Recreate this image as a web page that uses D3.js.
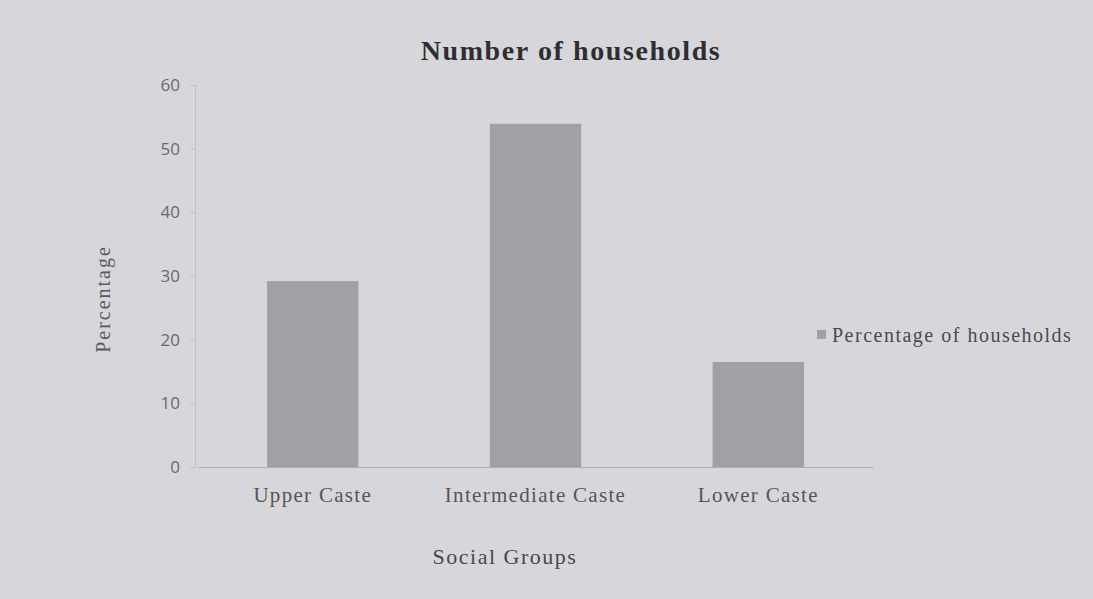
<!DOCTYPE html>
<html><head><meta charset="utf-8">
<script src="https://cdn.jsdelivr.net/npm/d3@7"></script>
<style>html,body{margin:0;padding:0;background:#d7d7db;}svg{display:block;}</style>
</head><body><svg id="c" width="1093" height="599"></svg>
<script>
const categories = ["Upper Caste", "Intermediate Caste", "Lower Caste"];
const values = [29.2, 53.9, 16.5];
const yTicks = [0, 10, 20, 30, 40, 50, 60];
const seriesName = "Percentage of households";
const title = "Number of households";
const xTitle = "Social Groups";
const yTitle = "Percentage";

const svg = d3.select("#c");
svg.append("rect").attr("width",1093).attr("height",599).attr("fill","#d7d7db");
const m = {left:195, right:870, top:85, bottom:467};
const x = d3.scaleBand().domain(categories).range([m.left, m.right]).paddingInner(0.59).paddingOuter(0.31);
const y = d3.scaleLinear().domain([0,60]).range([m.bottom, m.top]);

const yAxis = d3.axisLeft(y).tickValues(yTicks).tickSize(5).tickPadding(10);
const gy = svg.append("g").attr("transform",`translate(${m.left},0)`).call(yAxis);
gy.select(".domain").attr("stroke","#c2c2c6");
gy.selectAll(".tick line").attr("stroke","#c2c2c6");
gy.selectAll("text").attr("font-family","'Open Sans', 'Liberation Sans', sans-serif").attr("font-size",17).attr("fill","#6a6a6e");

const xAxis = d3.axisBottom(x).tickSize(0).tickPadding(20);
const gx = svg.append("g").attr("transform",`translate(3,${m.bottom})`).call(xAxis);
gx.select(".domain").attr("stroke","#aeaeb2").attr("stroke-width",1.2);
gx.selectAll("text").attr("font-family","'Liberation Serif', serif").attr("font-size",21)
  .attr("letter-spacing",1.3).attr("fill","#555559");

svg.append("g").selectAll("rect").data(values).join("rect")
  .attr("x",(d,i)=>x(categories[i])+3)
  .attr("y",d=>y(d))
  .attr("width",x.bandwidth())
  .attr("height",d=>y(0)-y(d))
  .attr("fill","#a1a1a5");

svg.append("text").attr("x",571).attr("y",60).attr("text-anchor","middle")
  .attr("font-family","'Liberation Serif', serif").attr("font-weight","bold").attr("font-size",28)
  .attr("letter-spacing",1.6).attr("fill","#2e2e32").text(title);
svg.append("text").attr("x",505).attr("y",564).attr("text-anchor","middle")
  .attr("font-family","'Liberation Serif', serif").attr("font-size",22).attr("letter-spacing",1.5)
  .attr("fill","#48484c").text(xTitle);
svg.append("text").attr("transform","translate(110,299) rotate(-90)").attr("text-anchor","middle")
  .attr("font-family","'Liberation Serif', serif").attr("font-size",20).attr("letter-spacing",2)
  .attr("fill","#5a5a5e").text(yTitle);

const lg = svg.append("g");
lg.append("rect").attr("x",817).attr("y",330).attr("width",9).attr("height",9).attr("fill","#a1a1a5");
lg.append("text").attr("x",832).attr("y",342).attr("font-family","'Liberation Serif', serif").attr("font-size",20)
  .attr("letter-spacing",1.5).attr("fill","#4a4a4e").text(seriesName);
</script></body></html>
